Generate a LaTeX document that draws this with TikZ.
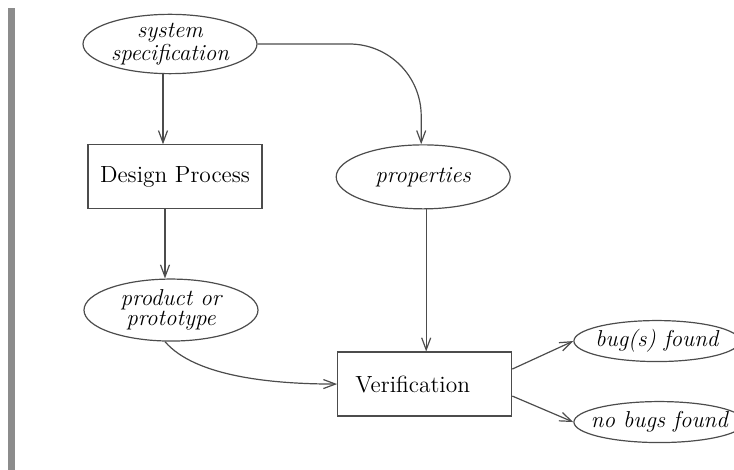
\documentclass[tikz,border=0pt]{standalone}
\usepackage{tikz}
\usetikzlibrary{shapes.geometric, arrows.meta, positioning}
\tikzstyle{stage} = [rectangle, minimum width=87pt, minimum height=32pt, text centered, draw=black!70, font=\fontsize{11.7}{10}\selectfont]
\tikzstyle{artefact} = [ellipse, minimum width=87pt, minimum height=31pt, inner sep=0pt, align=center, draw=black!70, font=\fontsize{11.5}{10}\selectfont\itshape]
\tikzstyle{outcome} = [ellipse, minimum width=83pt, minimum height=20.5pt, inner ysep=0pt, inner xsep=-4pt, draw=black!70, font=\fontsize{11.5}{10}\selectfont\itshape]
\tikzstyle{arrow} = [draw=black!70, ->, >={Straight Barb[length=6pt,width=4.5pt]}]

\begin{document}
\begin{tikzpicture}[x=0.5pt, y=-0.5pt, line width=0.6pt]
    \useasboundingbox (0,0) rectangle (734,470);
    % bar on the left margin
    \fill[black!45] (8,8) rectangle (15,470);

    % left column
    \node (spec) [artefact, minimum height=29pt] at (170,44) {system\\specification};
    \node (design) [stage, below=35pt of spec, xshift=2.5pt] {Design Process};
    \node (prod) [artefact, below=34.5pt of design, xshift=-2pt] {product or\\prototype};

    % right column
    \node (props) [artefact, minimum height=32pt, right=36.5pt of design] {properties};
    \node (verif) [stage, below=71pt of props, xshift=0.75pt] {Verification\hspace*{12pt}};

    % results
    \node (bugs) [outcome, right=30.5pt of verif, yshift=21.5pt] {bug(s) found};
    \node (nobugs) [outcome, right=30.5pt of verif, yshift=-19pt] {no bugs found};

    % --- Flechas ---
    \draw [arrow] ([xshift=-3.5pt]spec.south) -- ([xshift=-3.5pt]spec.south |- design.north);
    \draw [arrow] ([xshift=-5pt]design.south) -- ([xshift=-5pt]design.south |- prod.north);
    \draw [arrow, rounded corners=36pt] (spec.east) -| ([xshift=-1pt]props.north);
    \draw [arrow] ([xshift=1.5pt]props.south) -- ([xshift=1.5pt]props.south |- verif.north);
    \draw [arrow] ([xshift=-3pt]prod.south) .. controls +(30,35) and +(-65,0) .. (verif.west);
    \draw [arrow] ([yshift=7.5pt]verif.east) -- (bugs.west);
    \draw [arrow] ([yshift=-6pt]verif.east) -- (nobugs.west);

\end{tikzpicture}
\end{document}
